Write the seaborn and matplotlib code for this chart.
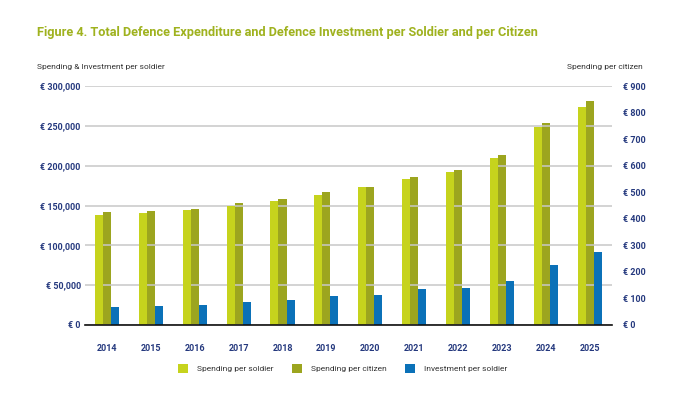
import pandas as pd
import matplotlib.pyplot as plt
import matplotlib.ticker as mticker
from matplotlib.patches import Patch
import seaborn as sns

sns.set_style('white')
plt.rcParams['font.family'] = ['Roboto', 'DejaVu Sans']

# Dados
anos = ['2014', '2015', '2016', '2017', '2018', '2019', '2020',
        '2021', '2022', '2023', '2024', '2025']
gasto_soldado = [137500, 140000, 144000, 150000, 155800, 163800, 173800,
                 183800, 191700, 210000, 248300, 274200]
gasto_cidadao = [425, 429, 437, 459, 475, 500, 521,
                 559, 584, 639, 761, 844]
invest_soldado = [22500, 24200, 25400, 28300, 31300, 36700, 37900,
                  45000, 46300, 55000, 75800, 91300]

series = ['Spending per soldier', 'Spending per citizen', 'Investment per soldier']
cores = {'Spending per soldier': '#c6d31d',
         'Spending per citizen': '#9ca51f',
         'Investment per soldier': '#0b71b8'}
azul_txt = '#25397e'

# eixo esquerdo: soldado (cidadão fica zerado só para reservar o espaço do dodge)
df_esq = pd.DataFrame({
    'ano': anos * 3,
    'serie': [series[0]] * 12 + [series[1]] * 12 + [series[2]] * 12,
    'valor': gasto_soldado + [0] * 12 + invest_soldado,
})
df_dir = pd.DataFrame({
    'ano': anos * 3,
    'serie': [series[0]] * 12 + [series[1]] * 12 + [series[2]] * 12,
    'valor': [0] * 12 + gasto_cidadao + [0] * 12,
})

fig = plt.figure(figsize=(6.92, 3.96), dpi=100)
ax = fig.add_axes([0.1228, 0.1793, 0.7612, 0.6035])
ax2 = ax.twinx()

sns.barplot(data=df_esq, x='ano', y='valor', hue='serie', hue_order=series,
            palette=cores, width=0.55, linewidth=0, saturation=1,
            legend=False, ax=ax)
sns.barplot(data=df_dir, x='ano', y='valor', hue='serie', hue_order=series,
            palette=cores, width=0.55, linewidth=0, saturation=1,
            legend=False, ax=ax2)

ax.set_ylim(0, 300000)
ax2.set_ylim(0, 900)
ax.set_xlim(-0.5, 11.5)
ax.yaxis.set_major_locator(mticker.MultipleLocator(50000))
ax2.yaxis.set_major_locator(mticker.MultipleLocator(100))
ax.yaxis.set_major_formatter(mticker.FuncFormatter(lambda v, p: f'€ {v:,.0f}'))
ax2.yaxis.set_major_formatter(mticker.FuncFormatter(lambda v, p: f'€ {v:,.0f}'))

ax.grid(axis='y', color='#c8c8c8', linewidth=1.1)
ax.set_axisbelow(True)
for a in (ax, ax2):
    for s in ['top', 'right', 'left', 'bottom']:
        a.spines[s].set_visible(False)
    a.set_xlabel('')
    a.set_ylabel('')
ax.spines['bottom'].set_visible(True)
ax.spines['bottom'].set_color('#111111')
ax.spines['bottom'].set_linewidth(1.2)
ax.set_zorder(ax2.get_zorder() + 1)
ax.patch.set_visible(False)

ax.tick_params(axis='y', length=0, pad=3, labelsize=6.5, labelcolor=azul_txt)
ax2.tick_params(axis='y', length=0, pad=8, labelsize=6.5, labelcolor=azul_txt)
ax.tick_params(axis='x', length=0, pad=14, labelsize=6.5, labelcolor=azul_txt)
for lbl in ax.get_yticklabels() + ax2.get_yticklabels() + ax.get_xticklabels():
    lbl.set_fontweight('bold')

fig.text(0.0535, 0.917, 'Figure 4. Total Defence Expenditure and Defence Investment per Soldier and per Citizen',
         fontsize=9.2, fontweight='bold', color='#9fb21e', va='center', ha='left')
fig.text(0.0535, 0.831, 'Spending & Investment per soldier', fontsize=6,
         color='#333333', va='center', ha='left')
fig.text(0.929, 0.831, 'Spending per citizen', fontsize=6,
         color='#333333', va='center', ha='right')

handles = [Patch(facecolor=cores[s], edgecolor='none', label=s) for s in series]
fig.legend(handles=handles, loc='center', bbox_to_anchor=(0.495, 0.07), ncol=3,
           frameon=False, fontsize=6, handlelength=1.2, handleheight=1.2,
           columnspacing=2.2, handletextpad=1.1, labelcolor='#333333')

fig.savefig('out.png', dpi=100)
